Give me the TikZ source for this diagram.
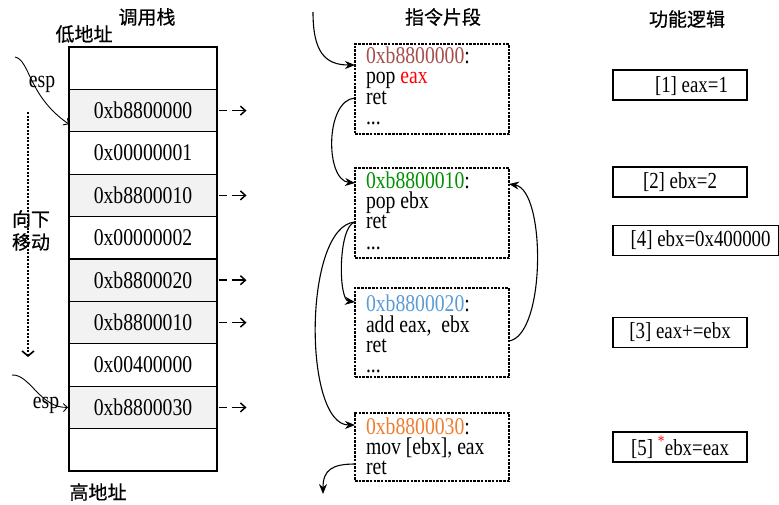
\documentclass[tikz,border=0pt]{standalone}
\usepackage{fontspec}
\setmainfont{Liberation Serif}[FakeStretch=0.82]
\newfontfamily\cjk{Noto Sans CJK SC}[FakeBold=0.6]
\usetikzlibrary{arrows.meta,calc}
\definecolor{cbrown}{RGB}{166,77,77}
\definecolor{cred}{RGB}{255,0,0}
\definecolor{cgreen}{RGB}{0,145,0}
\definecolor{cblue}{RGB}{91,155,213}
\definecolor{corange}{RGB}{237,125,49}
\begin{document}
\begin{tikzpicture}[x=1pt,y=-1pt,
  every node/.style={inner sep=0pt, outer sep=0pt},
  txt/.style={font=\fontsize{24}{20}\selectfont},
  ftxt/.style={font=\fontsize{23}{20}\selectfont},
  cjkt/.style={font=\cjk\fontsize{19}{19}\selectfont},
  row/.style={draw, line width=1.3pt, minimum width=148pt, minimum height=42.4pt, txt},
  shadedrow/.style={row, fill=black!5},
  codebox/.style={draw, dash pattern=on 2.5pt off 1.2pt, line width=1.8pt, minimum width=154pt},
  codeline/.style={txt, anchor=base west},
  fbox/.style={draw, line width=1.2pt, minimum height=30pt, ftxt},
  stackarr/.style={line width=1.7pt, dash pattern=on 8pt off 5pt on 40pt off 5pt, -{Straight Barb[length=5pt,width=9pt,line width=1.5pt]}},
  esparr/.style={line width=0.9pt, -{Straight Barb[length=4pt,width=8pt]}},
  flow/.style={line width=1.1pt, -{Stealth[length=10pt,width=8pt]}}
]
\useasboundingbox (0,0) rectangle (779,504);

% titles
\node[cjkt] (t1) at (147,17) {调用栈};
\node[cjkt] (t2) at (443,17) {指令片段};
\node[cjkt] (t3) at (687,19) {功能逻辑};
\node[cjkt] (lo) at (84,34) {低地址};
\node[cjkt] (hi) at (98,492) {高地址};

% stack
\node[row] (r1) at (143,68.2) {};
\node[shadedrow] (r2) at (143,110.6) {0xb8800000};
\node[row] (r3) at (143,153) {0x00000001};
\node[shadedrow] (r4) at (143,195.4) {0xb8800010};
\node[row] (r5) at (143,237.8) {0x00000002};
\node[shadedrow] (r6) at (143,280.2) {0xb8800020};
\node[shadedrow] (r7) at (143,322.6) {0xb8800010};
\node[row] (r8) at (143,365) {0x00400000};
\node[shadedrow] (r9) at (143,407.4) {0xb8800030};
\node[row] (r10) at (143,449.8) {};

\foreach \r in {r2,r4,r6,r7,r9}{
  \draw[stackarr] ([xshift=1.5pt]\r.east) -- ++(28,0);
}

% esp pointers
\coordinate (espa) at (15,57);
\coordinate (espb) at (12,375);
\draw[esparr] (espa) .. controls (30,60) and (28,96) .. ([yshift=-13.6pt]r2.west);
\draw[esparr] (espb) .. controls (30,374) and (40,408) .. ([xshift=-1pt]r9.west);
\node[txt] (esp1) at (42,84) {esp};
\node[txt] (esp2) at (46,405) {esp};

% moving direction
\coordinate (dtop) at (28,112);
\coordinate (dbot) at (28,357);
\draw[line width=2.4pt, dash pattern=on 2pt off 1.5pt, -{Straight Barb[length=5pt,width=12pt,line width=1.6pt]}] (dtop) -- (dbot);
\node[cjkt] (mv1) at (31,219) {向下};
\node[cjkt] (mv2) at (31,242) {移动};

% code boxes
\node[codebox, minimum height=90pt] (b1) at (432,89) {};
\node[codebox, minimum height=90pt] (b2) at (432,213) {};
\node[codebox, minimum height=89pt] (b3) at (432,332.5) {};
\node[codebox, minimum height=68pt] (b4) at (432,447) {};

\node[codeline] (b1a) at (366,63) {\textcolor{cbrown}{0xb8800000}:};
\node[codeline] (b1b) at (366,83.5) {pop \textcolor{cred}{eax}};
\node[codeline] (b1c) at (366,104) {ret};
\node[codeline] (b1d) at (366,124.5) {...};

\node[codeline] (b2a) at (366,188) {\textcolor{cgreen}{0xb8800010}:};
\node[codeline] (b2b) at (366,208) {pop ebx};
\node[codeline] (b2c) at (366,228.5) {ret};
\node[codeline] (b2d) at (366,249) {...};

\node[codeline] (b3a) at (366,311) {\textcolor{cblue}{0xb8800020}:};
\node[codeline] (b3b) at (366,332) {add eax,~ ebx};
\node[codeline] (b3c) at (366,352) {ret};
\node[codeline] (b3d) at (366,372) {...};

\node[codeline] (b4a) at (366,434) {\textcolor{corange}{0xb8800030}:};
\node[codeline] (b4b) at (366,454) {mov [ebx], eax};
\node[codeline] (b4c) at (366,474) {ret};

% connector anchors
\coordinate (start) at (313,12);
\coordinate (b1in) at ($(b1.north west)+(0,21)$);
\coordinate (b1out) at ($(b1.north west)+(0,54)$);
\coordinate (b2in) at ($(b2.north west)+(0,15)$);
\coordinate (b2out) at ($(b2.north west)+(0,54)$);
\coordinate (b2rin) at ($(b2.north east)+(0,16)$);
\coordinate (b3in) at ($(b3.north west)+(0,14)$);
\coordinate (b3rout) at ($(b3.north east)+(0,53)$);
\coordinate (b4in) at ($(b4.north west)+(0,12)$);
\coordinate (b4out) at ($(b4.north west)+(0,51)$);
\coordinate (endpt) at (323,494);

\draw[flow] (start) .. controls (313,52) and (325,65) .. (b1in);
\draw[flow] (b1out) .. controls (325,100) and (325,180) .. (b2in);
\draw[flow] (b2out) .. controls (338,226) and (338,300) .. (b3in);
\draw[flow] (b2out) .. controls (303,226) and (303,425) .. (b4in);
\draw[flow] (b3rout) .. controls (546,335) and (546,190) .. (b2rin);
\draw[flow] (b4out) .. controls (332,464) and (323,470) .. (endpt);

% function logic
\node[fbox, minimum width=134pt] (f1) at (680,85) {};
\node[ftxt] (f1t) at (691.5,86) {[1] eax=1};
\node[fbox, minimum width=134pt] (f2) at (680,182) {[2] ebx=2};
\node[fbox, minimum width=165.3pt] (f4) at (695.6,240.5) {\hspace{10pt}[4] ebx=0x400000};
\node[fbox, minimum width=134pt] (f3) at (680,332.5) {[3] eax+=ebx};
\node[fbox, minimum width=134pt] (f5) at (680,447) {[5] \textsuperscript{\textcolor{cred}{*}}ebx=eax};
\end{tikzpicture}
\end{document}
